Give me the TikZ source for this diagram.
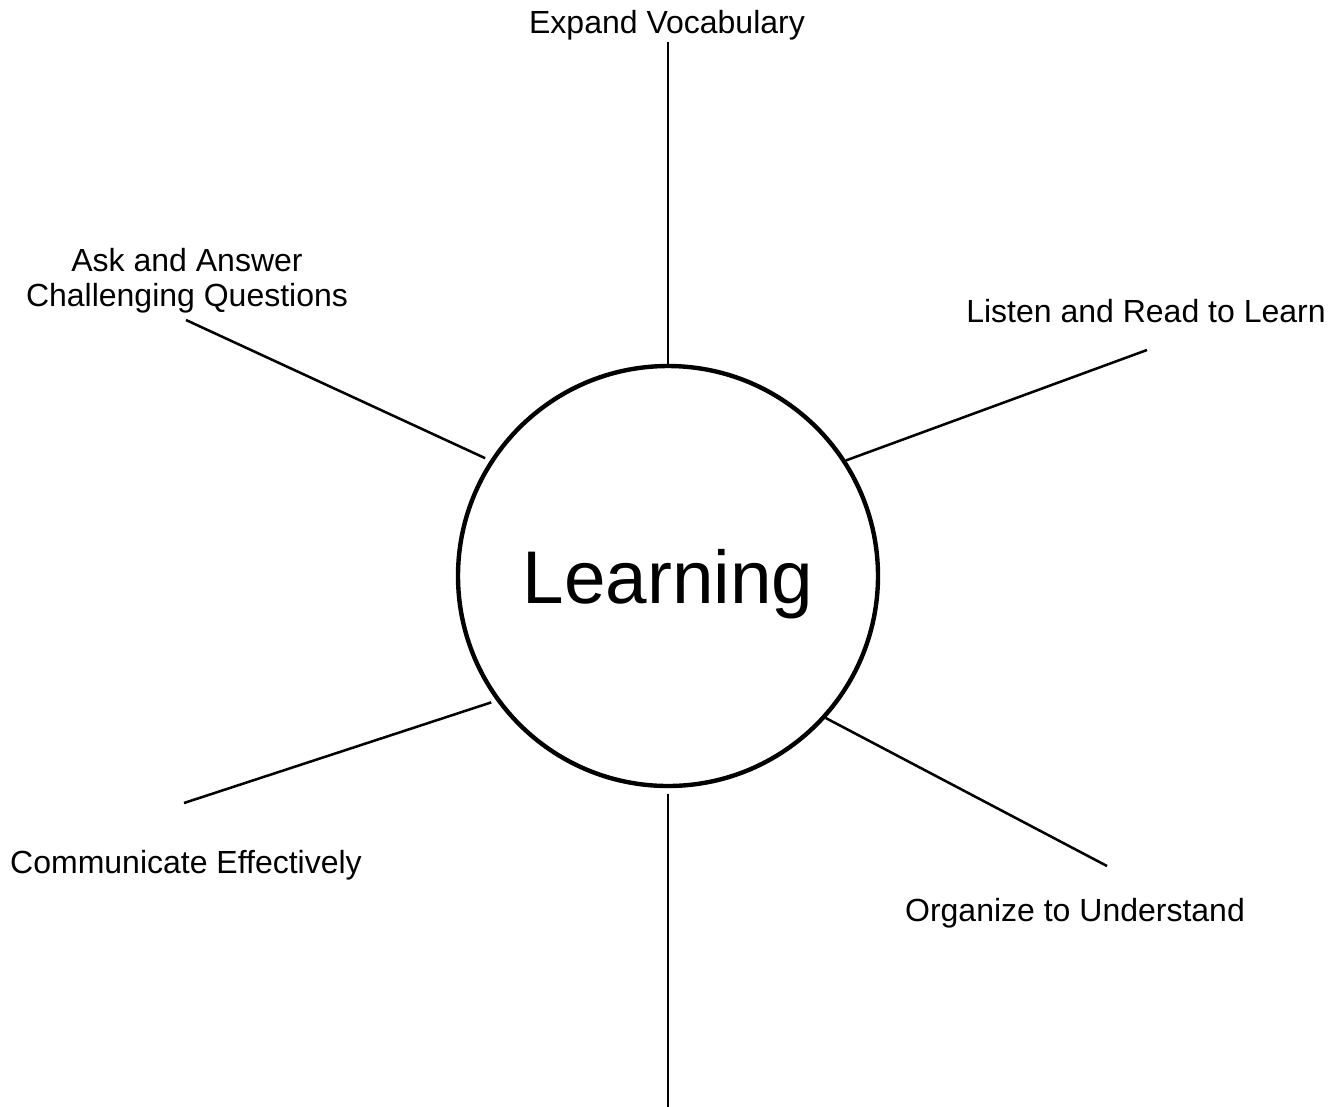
\documentclass[tikz,border=0pt]{standalone}
\usepackage{fontspec}
\setmainfont{Liberation Sans}
\usetikzlibrary{positioning}

\begin{document}
\begin{tikzpicture}[
  x=0.75pt, y=-0.75pt,
  hub/.style={draw, circle, line width=3.3pt, minimum size=315pt, inner sep=0pt,
    text depth=0pt, font=\fontsize{56}{64}\selectfont},
  topic/.style={font=\fontsize{24}{26.5}\selectfont, align=center, inner sep=0pt},
  spoke/.style={line width=1.9pt},
  gap/.style={shorten <=4pt}
]
  \useasboundingbox (0,0) rectangle (1343,1107);
  \node[hub] (learn) at (668,576) {Learning};

  \node[topic, anchor=base] (vocab) at (667,33) {Expand Vocabulary};
  \node[topic] (ask) at (187,281) {Ask and Answer\\Challenging Questions};
  \node[topic, anchor=base] (listen) at (1146,322) {Listen and Read to Learn};
  \node[topic, anchor=base] (comm) at (186,873) {Communicate Effectively};
  \node[topic, anchor=base] (organize) at (1075,921) {Organize to Understand};

  \coordinate (vocabEnd) at (668,42);
  \coordinate (askEnd) at (186,320);
  \coordinate (listenEnd) at (1147,350);
  \coordinate (commEnd) at (184,803);
  \coordinate (organizeEnd) at (1107,866);
  \coordinate (bottomEnd) at (668,1107);

  \draw[spoke] (learn.north) -- (vocabEnd);
  \draw[spoke, gap] (learn.147) -- (askEnd);
  \draw[spoke] (learn.33.5) -- (listenEnd);
  \draw[spoke, gap] (learn.216) -- (commEnd);
  \draw[spoke] (learn.-42.5) -- (organizeEnd);
  \draw[spoke, gap] (learn.south) -- (bottomEnd);
\end{tikzpicture}
\end{document}
